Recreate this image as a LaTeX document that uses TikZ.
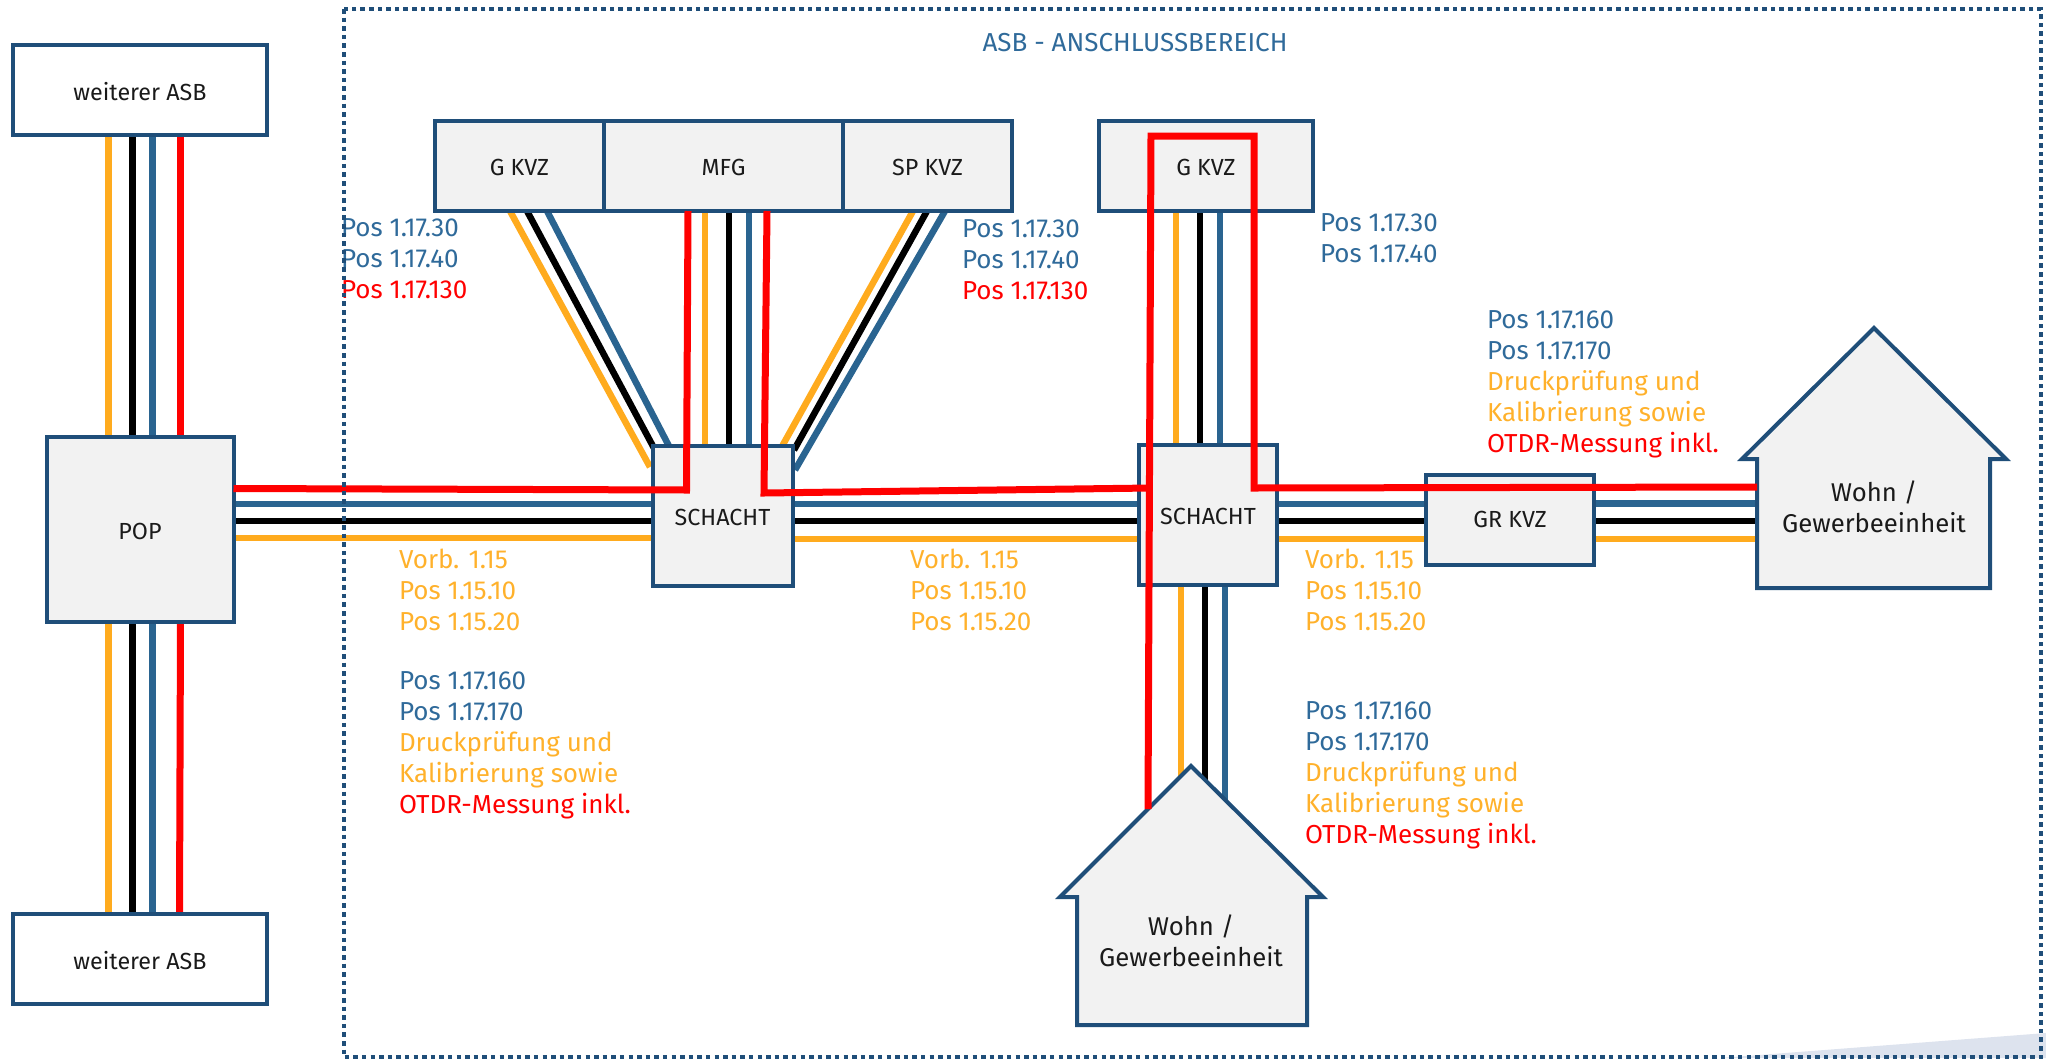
\documentclass[tikz,border=0pt]{standalone}
\usepackage{fontspec}
\setmainfont{Fira Sans}
\usetikzlibrary{backgrounds}
\definecolor{dkblue}{HTML}{1F4E79}
\definecolor{wblue}{HTML}{2A6490}
\definecolor{lblue}{HTML}{2F6A9A}
\definecolor{worange}{HTML}{FFAB1E}
\definecolor{lorange}{HTML}{FFB12B}
\definecolor{boxfill}{HTML}{F2F2F2}
\definecolor{wedge}{HTML}{DDE3EE}
\definecolor{ink}{HTML}{1A1A1A}
\pgfdeclarelayer{redlayer}
\pgfdeclarelayer{framelayer}
\pgfsetlayers{background,main,redlayer,framelayer}
\tikzset{
  boxst/.style={draw=dkblue,line width=4pt,fill=boxfill,inner sep=0pt,outer sep=0pt,text=ink,text height=19pt,text depth=0pt,font=\fontsize{23.3}{23.3}\selectfont},
  lowtext/.style={text height=21pt},
  hightext/.style={text height=14pt},
  whitebox/.style={boxst,lowtext,fill=white},
  housest/.style={draw=dkblue,line width=4pt,fill=boxfill,line join=miter,miter limit=10},
  housetext/.style={inner sep=0pt,outer sep=0pt,text=ink,align=center,font=\fontsize{25.7}{31}\selectfont},
  anchorwall/.style={inner sep=0pt,outer sep=0pt},
  wo/.style={draw=worange,line width=6.5pt},
  wk/.style={draw=black,line width=6.5pt},
  wb/.style={draw=wblue,line width=6.5pt},
  wr/.style={draw=red,line width=7pt,line join=miter},
  lab/.style={anchor=west,inner sep=0pt,outer sep=0pt,text height=18pt,text depth=0pt,font=\fontsize{26}{26}\selectfont},
  labb/.style={lab,text=lblue},
  labo/.style={lab,text=lorange},
  labr/.style={lab,text=red},
  frame/.style={draw=dkblue,line width=4pt,dash pattern=on 4.5pt off 4.1pt}
}
\begin{document}
\begin{tikzpicture}[x=1pt,y=-1pt]
\useasboundingbox (0,0) rectangle (2046,1058);
% boxes
\node[whitebox,minimum width=254pt,minimum height=90pt] (asbt) at (140,90) {weiterer ASB};
\node[whitebox,minimum width=254pt,minimum height=90pt] (asbb) at (140,959) {weiterer ASB};
\node[boxst,lowtext,minimum width=187pt,minimum height=185pt] (pop) at (140,529) {POP};
\node[boxst,minimum width=169pt,minimum height=90pt] (gk1) at (519.5,166) {G KVZ};
\node[boxst,minimum width=239pt,minimum height=90pt] (mfg) at (723.5,166) {MFG};
\node[boxst,minimum width=169pt,minimum height=90pt] (sp) at (927.5,166) {SP KVZ};
\node[boxst,minimum width=214pt,minimum height=90pt] (gk2) at (1206,166) {G KVZ};
\node[boxst,minimum width=140pt,minimum height=140pt] (sch1) at (722.5,516) {SCHACHT};
\node[boxst,minimum width=138pt,minimum height=140pt] (sch2) at (1208,515) {SCHACHT};
\node[boxst,hightext,minimum width=168pt,minimum height=90pt] (gr) at (1510,520) {GR KVZ};
% houses
\draw[housest] (1874,328) -- (2006,459) -- (1990,459) -- (1990,588) -- (1757,588) -- (1757,459) -- (1742,459) -- cycle;
\draw[housest] (1191,766) -- (1323,897) -- (1307,897) -- (1307,1025) -- (1077,1025) -- (1077,897) -- (1060,897) -- cycle;
\node[anchorwall,minimum width=233pt,minimum height=129pt] (h1) at (1873.5,523.5) {};
\node[anchorwall,minimum width=230pt,minimum height=128pt] (h2) at (1192,961) {};
\node[housetext] (h1t) at (1874,507) {Wohn /\\Gewerbeeinheit};
\node[housetext] (h2t) at (1191,941) {Wohn /\\Gewerbeeinheit};
% background wires
\begin{scope}[on background layer]
\fill[wedge] (1720,1058) -- (2046,1033) -- (2046,1058) -- cycle;
% top ASB - POP
\draw[wo] (asbt.south -| 108.5,0) -- (pop.north -| 108.5,0);
\draw[wk] (asbt.south -| 132.5,0) -- (pop.north -| 132.5,0);
\draw[wb] (asbt.south -| 152.5,0) -- (pop.north -| 152.5,0);
\draw[wr] (asbt.south -| 180,0) -- (pop.north -| 180,0);
% POP - bottom ASB
\draw[wo] (pop.south -| 108.5,0) -- (asbb.north -| 108.5,0);
\draw[wk] (pop.south -| 132.5,0) -- (asbb.north -| 132.5,0);
\draw[wb] (pop.south -| 152.5,0) -- (asbb.north -| 152.5,0);
\draw[wr] (pop.south -| 180.5,0) -- (asbb.north -| 179.5,0);
% POP - SCHACHT 1
\draw[wb] (pop.east |- 0,504) -- (sch1.west |- 0,504);
\draw[wk] (pop.east |- 0,521) -- (sch1.west |- 0,521);
\draw[wo] (pop.east |- 0,538) -- (sch1.west |- 0,538);
% SCHACHT 1 - SCHACHT 2
\draw[wb] (sch1.east |- 0,504) -- (sch2.west |- 0,504);
\draw[wk] (sch1.east |- 0,521) -- (sch2.west |- 0,521);
\draw[wo] (sch1.east |- 0,539) -- (sch2.west |- 0,539);
% SCHACHT 2 - GR KVZ
\draw[wb] (sch2.east |- 0,504) -- (gr.west |- 0,504);
\draw[wk] (sch2.east |- 0,521) -- (gr.west |- 0,521);
\draw[wo] (sch2.east |- 0,539) -- (gr.west |- 0,539);
% GR KVZ - house
\draw[wb] (gr.east |- 0,503.5) -- (h1.west |- 0,503.5);
\draw[wk] (gr.east |- 0,521) -- (h1.west |- 0,521);
\draw[wo] (gr.east |- 0,539) -- (h1.west |- 0,539);
% G KVZ 1 - SCHACHT 1
\draw[wo] (gk1.south -| 510,0) -- (650,467);
\draw[wk] (gk1.south -| 527,0) -- (655,450);
\draw[wb] (gk1.south -| 547,0) -- (671,450);
% MFG - SCHACHT 1
\draw[wo] (mfg.south -| 705,0) -- (sch1.north -| 705,0);
\draw[wk] (mfg.south -| 729,0) -- (sch1.north -| 729,0);
\draw[wb] (mfg.south -| 749,0) -- (sch1.north -| 749,0);
% SP KVZ - SCHACHT 1
\draw[wo] (sp.south -| 913,0) -- (780,450);
\draw[wk] (sp.south -| 927,0) -- (794,450);
\draw[wb] (sp.south -| 945,0) -- (795,470);
% G KVZ 2 - SCHACHT 2
\draw[wo] (gk2.south -| 1176,0) -- (sch2.north -| 1176,0);
\draw[wk] (gk2.south -| 1200,0) -- (sch2.north -| 1200,0);
\draw[wb] (gk2.south -| 1220,0) -- (sch2.north -| 1220,0);
% SCHACHT 2 - house 2
\draw[wo] (sch2.south -| 1181,0) -- (1181,790);
\draw[wk] (sch2.south -| 1205,0) -- (1205,790);
\draw[wb] (sch2.south -| 1225,0) -- (1225,810);
\end{scope}
% red routes over boxes
\begin{pgfonlayer}{redlayer}
\coordinate (r1bend) at (686.5,490);
\coordinate (r2bend) at (764,493);
\coordinate (r2end) at (1151,488);
\coordinate (rlooptl) at (1151,136);
\coordinate (rlooptr) at (1254,136);
\coordinate (rloopbr) at (1254,488);
\coordinate (rhouse) at (1148,809);
\draw[wr] (pop.east |- 0,488.5) -- (r1bend) -- (mfg.south -| 688,0);
\draw[wr] (mfg.south -| 767,0) -- (r2bend) -- (r2end);
\draw[wr] (rhouse) -- (rlooptl) -- (rlooptr) -- (rloopbr) -- (h1.west |- 0,487);
\end{pgfonlayer}
% labels
\node[labb] (a1) at (341,227) {Pos 1.17.30};
\node[labb] (a2) at (341,258) {Pos 1.17.40};
\node[labr] (a3) at (341,289) {Pos 1.17.130};
\node[labb] (b1) at (962,228) {Pos 1.17.30};
\node[labb] (b2) at (962,259) {Pos 1.17.40};
\node[labr] (b3) at (962,290) {Pos 1.17.130};
\node[labb] (c1) at (1320,222) {Pos 1.17.30};
\node[labb] (c2) at (1320,253) {Pos 1.17.40};
\node[labb] (d1) at (1487,319) {Pos 1.17.160};
\node[labb] (d2) at (1487,350) {Pos 1.17.170};
\node[labo] (d3) at (1487,381) {Druckprüfung und};
\node[labo] (d4) at (1487,412) {Kalibrierung sowie};
\node[labr] (d5) at (1487,443) {OTDR-Messung inkl.};
\node[labo] (e1) at (399,559) {Vorb. 1.15};
\node[labo] (e2) at (399,590) {Pos 1.15.10};
\node[labo] (e3) at (399,621) {Pos 1.15.20};
\node[labb] (e4) at (399,680) {Pos 1.17.160};
\node[labb] (e5) at (399,711) {Pos 1.17.170};
\node[labo] (e6) at (399,742) {Druckprüfung und};
\node[labo] (e7) at (399,773) {Kalibrierung sowie};
\node[labr] (e8) at (399,804) {OTDR-Messung inkl.};
\node[labo] (f1) at (910,559) {Vorb. 1.15};
\node[labo] (f2) at (910,590) {Pos 1.15.10};
\node[labo] (f3) at (910,621) {Pos 1.15.20};
\node[labo] (g1) at (1305,559) {Vorb. 1.15};
\node[labo] (g2) at (1305,590) {Pos 1.15.10};
\node[labo] (g3) at (1305,621) {Pos 1.15.20};
\node[labb] (i1) at (1305,710) {Pos 1.17.160};
\node[labb] (i2) at (1305,741) {Pos 1.17.170};
\node[labo] (i3) at (1305,772) {Druckprüfung und};
\node[labo] (i4) at (1305,803) {Kalibrierung sowie};
\node[labr] (i5) at (1305,834) {OTDR-Messung inkl.};
\node[lab,anchor=center,text=lblue] (title) at (1135,42) {ASB - ANSCHLUSSBEREICH};
% frame
\begin{pgfonlayer}{framelayer}
\draw[frame] (343.5,9) rectangle (2041,1057);
\end{pgfonlayer}
\end{tikzpicture}
\end{document}
